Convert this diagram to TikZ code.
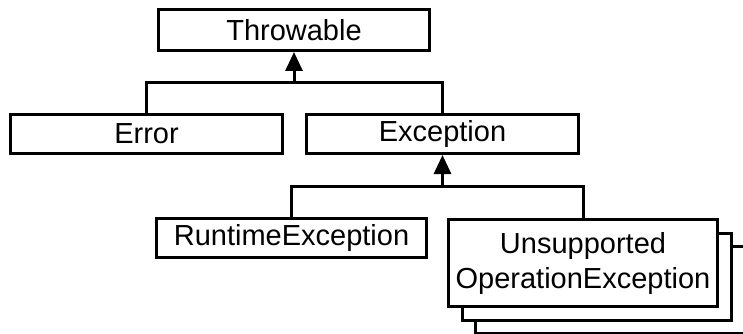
\documentclass[tikz,border=0pt]{standalone}
\usepackage{fontspec}
\setmainfont{Liberation Sans}
\usetikzlibrary{arrows.meta,shadows}

\begin{document}
\begin{tikzpicture}[x=1pt,y=-1pt,>={Triangle[length=19pt,width=17pt]},
  line width=3pt,
  cls/.style={draw,fill=white,inner sep=0pt,minimum height=39pt,
    font=\fontsize{29}{35}\selectfont},
  stack/.style={double copy shadow={shadow xshift=13.5pt,shadow yshift=-13.5pt}}]

\useasboundingbox (0,0) rectangle (743,334);

\node[cls,minimum width=271pt,minimum height=41pt] (thr) at (294,30) {Throwable};
\node[cls,minimum width=272pt] (err) at (146.5,134) {Error};
\node[cls,minimum width=272pt] (exc) at (442.5,134) {Exception};
\node[cls,minimum width=270pt] (rte) at (291.5,238) {RuntimeException};
\node[cls,stack,minimum width=269pt,minimum height=87pt,align=center] (uoe) at (583,263)
  {Unsupported\\OperationException};

% joints of the tree
\coordinate (j1) at (294,83);
\coordinate (j2) at (442.5,186);

\draw (err.north) |- (j1) -| (exc.north);
\draw[->] (j1) -- (thr.south);

\draw (rte.north) |- (j2) -| (uoe.north);
\draw[->] (j2) -- (exc.south);

\end{tikzpicture}
\end{document}
